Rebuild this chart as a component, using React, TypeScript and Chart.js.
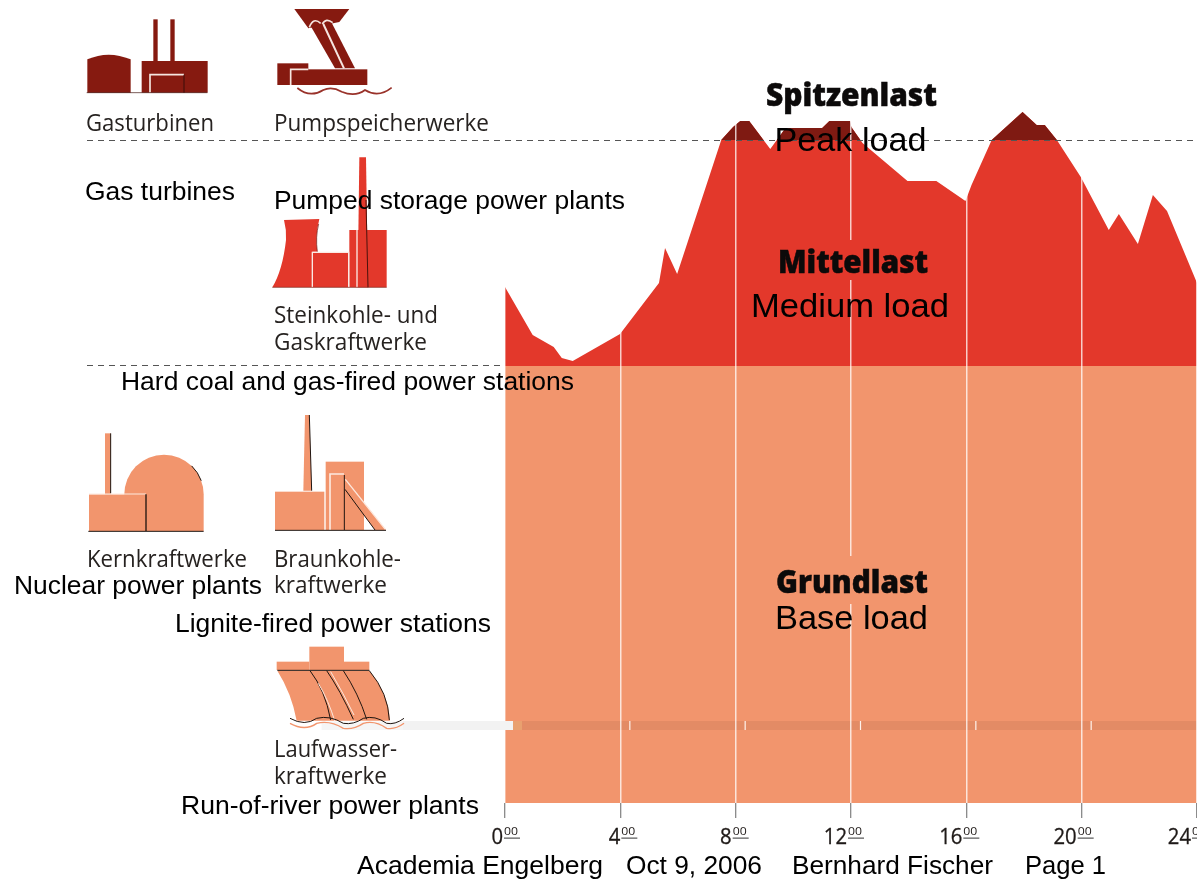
import { useEffect, useRef } from "react";
import { Chart, registerables } from "chart.js";

Chart.register(...registerables);

// ---- Data (load in arbitrary units over the hours of a day) ----
const hours = [0, 0.96, 1.69, 1.97, 2.35, 3.99, 5.34, 5.55, 5.97, 7.5, 7.91, 8.16, 8.47, 9.2, 9.68, 9.86, 11.0, 11.25, 11.97, 12.01, 12.4, 13.96, 14.96, 15.97, 16.18, 16.88, 17.95, 18.44, 18.72, 19.14, 19.97, 20.94, 21.29, 21.95, 22.47, 22.96, 24];
const totalLoad = [516, 468, 456, 445, 442, 469, 520, 555, 529, 663, 676, 682, 682, 654, 673, 675, 675, 682, 682, 676, 660, 622, 622, 602, 618, 663, 691, 678, 678, 663, 626, 573, 589, 559, 608, 592, 520];
const baseHours = [0, 24];
const baseLoad = [437, 437];
const riverHours = [0.58, 24];
const riverLoad = [77.5, 77.5];
const peakThreshold = 663;
const mediumThreshold = 437;
const xTicks = [0, 4, 8, 12, 16, 20, 24];
const hourLabelShift = [-2, 0, -4, -4, -4, -5, -6];

const COL_PEAK = "#7f1a12";
const COL_MID = "#e3382b";
const COL_BASE = "#f2956d";
const COL_RIVER = "#e38b65";
const DARK = "#1f1a18";

const GERMAN = '"Open Sans", "Noto Sans", sans-serif';
const ARIAL = '"Liberation Sans", Arial, sans-serif';

type Label = [string, number, number, number];
// text, left, baseline, width
const largeLabels: Label[] = [
  ["Peak load", 774.5, 150.5, 152],
  ["Medium load", 751, 317, 198],
  ["Base load", 775, 629, 153],
];
const englishLabels: Label[] = [
  ["Gas turbines", 85, 200, 150],
  ["Pumped storage power plants", 274, 209, 351],
  ["Hard coal and gas-fired power stations", 121, 390, 453],
  ["Nuclear power plants", 14, 594, 248],
  ["Lignite-fired power stations", 175, 632, 316],
  ["Run-of-river power plants", 181, 814, 298],
  ["Academia Engelberg", 357, 874, 246],
  ["Oct 9, 2006", 626, 874, 136],
  ["Bernhard Fischer", 792, 874, 201],
  ["Page 1", 1025, 874, 81],
];
const germanLabels: Label[] = [
  ["Gasturbinen", 86, 131, 128],
  ["Pumpspeicherwerke", 274, 131, 215],
  ["Steinkohle- und", 274, 323, 164],
  ["Gaskraftwerke", 274, 350, 153],
  ["Kernkraftwerke", 87, 567, 160],
  ["Braunkohle-", 274, 567, 127],
  ["kraftwerke", 274, 593, 113],
  ["Laufwasser-", 274, 757, 123],
  ["kraftwerke", 274, 784, 113],
];
const headings: Label[] = [
  ["Spitzenlast", 766, 106, 171],
  ["Mittellast", 778, 273, 150],
  ["Grundlast", 776, 593, 152],
];

function fitText(ctx: CanvasRenderingContext2D, t: string, x: number, y: number, w: number, font: string, color: string, stroke = 0) {
  ctx.save();
  ctx.font = font;
  ctx.fillStyle = color;
  ctx.textAlign = "left";
  ctx.textBaseline = "alphabetic";
  const m = ctx.measureText(t).width;
  ctx.translate(x, y);
  ctx.scale(w / m, 1);
  ctx.fillText(t, 0, 0);
  if (stroke) {
    ctx.strokeStyle = color;
    ctx.lineWidth = stroke;
    ctx.strokeText(t, 0, 0);
  }
  ctx.restore();
}

function poly(ctx: CanvasRenderingContext2D, pts: number[][], color: string) {
  ctx.fillStyle = color;
  ctx.beginPath();
  pts.forEach((p, i) => (i ? ctx.lineTo(p[0], p[1]) : ctx.moveTo(p[0], p[1])));
  ctx.closePath();
  ctx.fill();
}
function seg(ctx: CanvasRenderingContext2D, pts: number[][], color: string, w: number) {
  ctx.strokeStyle = color;
  ctx.lineWidth = w;
  ctx.beginPath();
  pts.forEach((p, i) => (i ? ctx.lineTo(p[0], p[1]) : ctx.moveTo(p[0], p[1])));
  ctx.stroke();
}
function box(ctx: CanvasRenderingContext2D, x0: number, y0: number, x1: number, y1: number, color: string) {
  ctx.fillStyle = color;
  ctx.fillRect(x0, y0, x1 - x0, y1 - y0);
}

// Pictograms, drawn in 3x crop units
function drawUpperIcons(ctx: CanvasRenderingContext2D) {
  ctx.save();
  ctx.translate(60, 0);
  ctx.scale(1 / 3, 1 / 3);
  // gas turbine
  const d = "#861a10";
  ctx.fillStyle = d;
  ctx.beginPath();
  ctx.moveTo(82, 278);
  ctx.lineTo(82, 178);
  ctx.quadraticCurveTo(145, 150, 212, 178);
  ctx.lineTo(212, 278);
  ctx.closePath();
  ctx.fill();
  box(ctx, 245, 183, 443, 278, d);
  box(ctx, 280, 58, 293, 183, d);
  box(ctx, 331, 58, 344, 183, d);
  seg(ctx, [[270, 278], [270, 224], [372, 224]], "#f6e6e0", 5);
  seg(ctx, [[372, 224], [372, 278]], "#3a0d08", 3);
  seg(ctx, [[80, 278], [442, 278]], "#3a0d08", 2);
  // pumped storage
  poly(ctx, [[703, 27], [868, 27], [838, 66], [745, 85]], d);
  poly(ctx, [[752, 78], [815, 68], [885, 205], [825, 205]], d);
  seg(ctx, [[790, 72], [852, 205]], "#f6e6e0", 6);
  ctx.strokeStyle = "#f6e6e0";
  ctx.lineWidth = 5;
  ctx.beginPath();
  ctx.moveTo(748, 82);
  ctx.quadraticCurveTo(760, 50, 782, 70);
  ctx.moveTo(787, 72);
  ctx.quadraticCurveTo(798, 52, 818, 68);
  ctx.stroke();
  box(ctx, 652, 190, 745, 255, d);
  box(ctx, 692, 208, 922, 255, d);
  seg(ctx, [[692, 255], [692, 208], [745, 208]], "#f6e6e0", 5);
  ctx.strokeStyle = "#99322a";
  ctx.lineWidth = 5;
  ctx.beginPath();
  ctx.moveTo(712, 264);
  ctx.quadraticCurveTo(750, 295, 790, 270);
  ctx.quadraticCurveTo(815, 258, 845, 275);
  ctx.quadraticCurveTo(885, 292, 915, 270);
  ctx.quadraticCurveTo(955, 295, 995, 263);
  ctx.stroke();
  // hard coal and gas
  const r = COL_MID;
  ctx.fillStyle = r;
  ctx.beginPath();
  ctx.moveTo(672, 660);
  ctx.lineTo(778, 657);
  ctx.quadraticCurveTo(765, 710, 772, 755);
  ctx.lineTo(757, 755);
  ctx.lineTo(757, 862);
  ctx.lineTo(637, 862);
  ctx.quadraticCurveTo(668, 810, 678, 720);
  ctx.quadraticCurveTo(680, 690, 672, 660);
  ctx.closePath();
  ctx.fill();
  box(ctx, 757, 757, 866, 862, r);
  box(ctx, 868, 690, 980, 862, r);
  poly(ctx, [[898, 472], [918, 472], [924, 862], [893, 862]], r);
  seg(ctx, [[757, 862], [757, 757], [866, 757], [866, 862]], "#fbeae4", 4);
  seg(ctx, [[891, 690], [891, 862]], "#fbeae4", 4);
  seg(ctx, [[918, 600], [924, 862]], "#4a120c", 3);
  ctx.strokeStyle = "#6a1a12";
  ctx.lineWidth = 2;
  ctx.beginPath();
  ctx.moveTo(776, 672);
  ctx.quadraticCurveTo(766, 710, 772, 755);
  ctx.stroke();
  seg(ctx, [[637, 862], [980, 862]], "#7a2a20", 2);
  ctx.restore();
}

function drawLowerIcons(ctx: CanvasRenderingContext2D) {
  ctx.save();
  ctx.translate(60, 400);
  ctx.scale(1 / 3, 1 / 3);
  const o = COL_BASE;
  const k = "#201510";
  // nuclear
  box(ctx, 135, 100, 152, 283, o);
  seg(ctx, [[152, 100], [152, 280]], k, 3);
  ctx.fillStyle = o;
  ctx.beginPath();
  ctx.moveTo(193, 283);
  ctx.arc(312, 283, 119, Math.PI, 0);
  ctx.lineTo(431, 393);
  ctx.lineTo(193, 393);
  ctx.closePath();
  ctx.fill();
  box(ctx, 87, 283, 258, 393, o);
  seg(ctx, [[87, 282], [258, 282]], "#fde9df", 3);
  seg(ctx, [[258, 283], [258, 393]], k, 4);
  ctx.strokeStyle = k;
  ctx.lineWidth = 3;
  ctx.beginPath();
  ctx.arc(312, 283, 119, -0.8, -0.35);
  ctx.stroke();
  seg(ctx, [[85, 394], [431, 394]], k, 3);
  // lignite
  poly(ctx, [[735, 45], [748, 45], [755, 272], [730, 272]], o);
  seg(ctx, [[748, 45], [755, 272]], k, 3);
  box(ctx, 645, 275, 793, 390, o);
  box(ctx, 797, 185, 912, 390, o);
  poly(ctx, [[852, 232], [855, 268], [945, 390], [978, 390]], o);
  seg(ctx, [[810, 390], [810, 222], [852, 222]], "#fde9df", 5);
  seg(ctx, [[853, 225], [853, 390]], k, 3);
  seg(ctx, [[855, 268], [945, 390]], k, 3);
  seg(ctx, [[856, 238], [976, 388]], "#fde9df", 4);
  seg(ctx, [[645, 391], [978, 391]], k, 3);
  // run of river
  box(ctx, 748, 740, 852, 810, o);
  box(ctx, 650, 785, 748, 810, o);
  box(ctx, 852, 785, 928, 810, o);
  ctx.fillStyle = o;
  ctx.beginPath();
  ctx.moveTo(652, 812);
  ctx.lineTo(928, 812);
  ctx.quadraticCurveTo(985, 880, 990, 962);
  ctx.lineTo(710, 962);
  ctx.quadraticCurveTo(695, 880, 652, 812);
  ctx.closePath();
  ctx.fill();
  seg(ctx, [[652, 811], [928, 811]], k, 3);
  ctx.strokeStyle = k;
  ctx.lineWidth = 3;
  ctx.beginPath();
  ctx.moveTo(750, 812);
  ctx.quadraticCurveTo(795, 870, 812, 960);
  ctx.moveTo(800, 812);
  ctx.quadraticCurveTo(840, 870, 880, 958);
  ctx.moveTo(850, 812);
  ctx.quadraticCurveTo(895, 880, 920, 958);
  ctx.moveTo(928, 812);
  ctx.quadraticCurveTo(985, 880, 988, 960);
  ctx.stroke();
  ctx.strokeStyle = "#fde9df";
  ctx.beginPath();
  ctx.moveTo(812, 815);
  ctx.quadraticCurveTo(850, 880, 882, 945);
  ctx.moveTo(775, 850);
  ctx.quadraticCurveTo(805, 900, 825, 965);
  ctx.stroke();
  box(ctx, 785, 965, 1320, 990, "rgba(242,242,242,0.75)");
  for (const [c, stroke, w] of [[970, k, 3], [985, o, 4]] as [number, string, number][]) {
    ctx.strokeStyle = stroke;
    ctx.lineWidth = w;
    ctx.beginPath();
    ctx.moveTo(690, c - 15);
    ctx.quadraticCurveTo(735, c + 10, 770, c - 15);
    ctx.quadraticCurveTo(810, c - 25, 850, c);
    ctx.quadraticCurveTo(880, c + 5, 910, c - 15);
    ctx.quadraticCurveTo(945, c - 25, 980, c);
    ctx.quadraticCurveTo(1005, c + 5, 1032, c - 15);
    ctx.stroke();
  }
  ctx.restore();
}

const overlayPlugin = {
  id: "overlay",
  afterDraw(chart: any) {
    const ctx: CanvasRenderingContext2D = chart.ctx;
    const xs = chart.scales.x;
    const ys = chart.scales.y;
    ctx.save();

    // Light strip left of the chart's band and the tick nicks in the band
    const bandY = ys.getPixelForValue(riverLoad[0]);
    box(ctx, 403, bandY - 4.5, 513, bandY + 4.5, "#f3f3f3");
    box(ctx, 513, bandY - 4.5, 522, bandY + 4.5, "#e9a06f");
    for (const h of xTicks.slice(1, -1)) {
      const p = xs.getPixelForValue(h) + 9.5;
      box(ctx, p - 0.6, bandY - 4.5, p + 0.6, bandY + 4.5, "#fff3ec");
    }

    // Breaks in the noon line behind the headings
    const noon = xs.getPixelForValue(12);
    box(ctx, noon - 2, 240, noon + 2, 280, COL_MID);
    box(ctx, noon - 2, 556, noon + 2, 604, COL_BASE);

    // Dashed thresholds
    ctx.save();
    ctx.strokeStyle = "#555";
    ctx.lineWidth = 1;
    ctx.setLineDash([6, 5]);
    const yPeak = Math.round(ys.getPixelForValue(peakThreshold)) + 0.5;
    const yMid = Math.round(ys.getPixelForValue(mediumThreshold)) - 0.5;
    ctx.beginPath();
    ctx.moveTo(87, yPeak);
    ctx.lineTo(1197, yPeak);
    ctx.moveTo(87, yMid);
    ctx.lineTo(xs.left, yMid);
    ctx.stroke();
    ctx.restore();

    drawUpperIcons(ctx);
    drawLowerIcons(ctx);

    // Hour labels
    xTicks.forEach((h, i) => {
      const p = xs.getPixelForValue(h) + hourLabelShift[i];
      const s = String(h);
      const w = s.length * 11.6;
      fitText(ctx, s, p - w, 844, w, `21px ${GERMAN}`, DARK, 0.3);
      fitText(ctx, "00", p + 1, 835, 14, `10.5px ${GERMAN}`, DARK);
      box(ctx, p + 1, 837.6, p + 17, 838.6, "#333");
    });

    for (const [t, x, y, w] of headings) fitText(ctx, t, x, y, w, `800 31px ${GERMAN}`, "#0c0a0a", 0.5);
    for (const [t, x, y, w] of germanLabels) fitText(ctx, t, x, y, w, `23px ${GERMAN}`, "#262220");
    for (const [t, x, y, w] of englishLabels) fitText(ctx, t, x, y, w, `26.5px ${ARIAL}`, "#000");
    for (const [t, x, y, w] of largeLabels) fitText(ctx, t, x, y, w, `34px ${ARIAL}`, "#000");
    ctx.restore();
  },
};

function toPoints(xs: number[], ys: number[]) {
  return xs.map((x, i) => ({ x, y: ys[i] }));
}

export default function App() {
  const ref = useRef<HTMLCanvasElement>(null);
  useEffect(() => {
    const chart = new Chart(ref.current!, {
      type: "line",
      data: {
        datasets: [
          {
            label: "Laufwasserkraftwerke",
            data: toPoints(riverHours, riverLoad),
            borderColor: COL_RIVER,
            borderWidth: 9,
            borderCapStyle: "butt",
            pointRadius: 0,
            fill: false,
          },
          {
            label: "Spitzenlast",
            data: toPoints(hours, totalLoad),
            borderWidth: 0,
            borderColor: "transparent",
            pointRadius: 0,
            tension: 0,
            fill: { target: { value: peakThreshold }, above: COL_PEAK, below: "rgba(0,0,0,0)" },
          },
          {
            label: "Mittellast",
            data: toPoints(hours, totalLoad),
            borderWidth: 0,
            borderColor: "transparent",
            pointRadius: 0,
            tension: 0,
            fill: { target: { value: mediumThreshold }, above: COL_MID, below: "rgba(0,0,0,0)" },
          },
          {
            label: "Grundlast",
            data: toPoints(baseHours, baseLoad),
            borderWidth: 0,
            borderColor: "transparent",
            backgroundColor: COL_BASE,
            pointRadius: 0,
            fill: "origin",
          },
        ],
      } as any,
      options: {
        animation: false,
        responsive: false,
        devicePixelRatio: 1,
        parsing: false,
        normalized: true,
        layout: { padding: { left: 505, right: 0, top: 3, bottom: 62 } },
        plugins: { legend: { display: false }, tooltip: { enabled: false } },
        scales: {
          x: {
            type: "linear",
            min: 0,
            max: 24,
            afterBuildTicks: (axis: any) => {
              axis.ticks = xTicks.map((value) => ({ value }));
            },
            ticks: { display: false },
            border: { display: false },
            grid: {
              z: 1,
              color: "rgba(255,255,255,0.75)",
              lineWidth: 1.5,
              tickColor: "#666",
              tickWidth: 1,
              tickLength: 15,
            },
          },
          y: { display: false, min: 0, max: 800 },
        },
      } as any,
      plugins: [overlayPlugin],
    });
    return () => chart.destroy();
  }, []);
  return (
    <canvas
      ref={ref}
      width={1197}
      height={880}
      style={{ position: "absolute", left: 0, top: 0, display: "block", width: 1197, height: 880, background: "#fff" }}
    />
  );
}
